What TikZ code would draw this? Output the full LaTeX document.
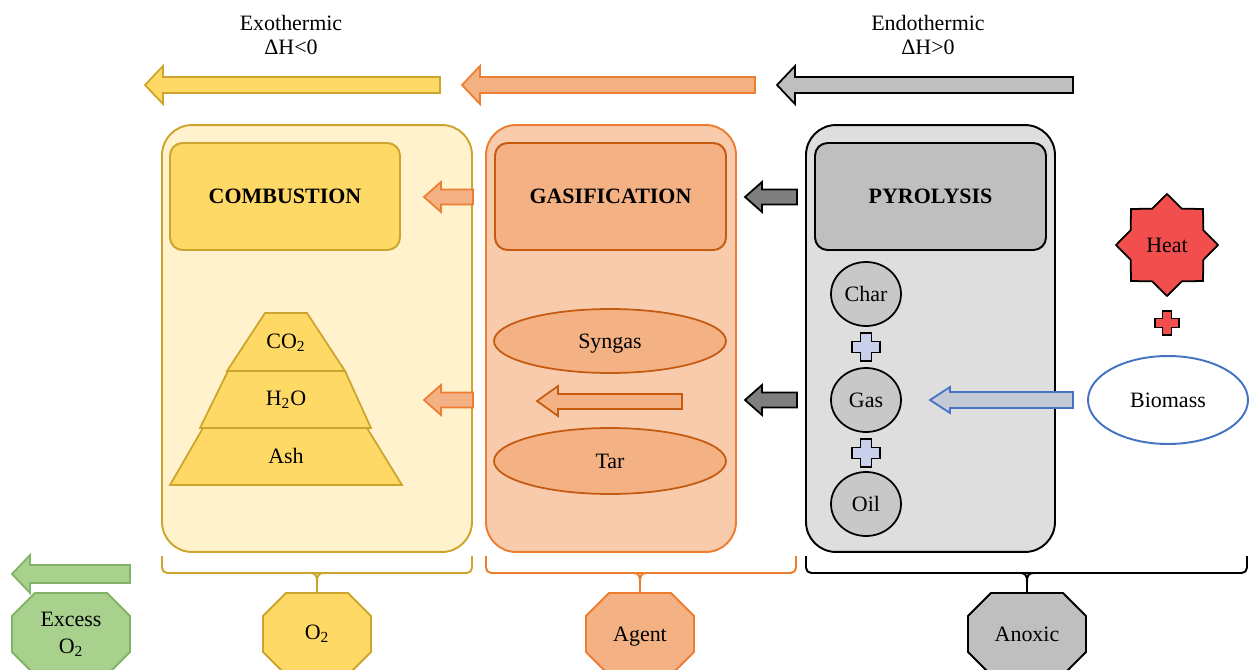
\documentclass[tikz,border=0pt]{standalone}
\usepackage{fontspec}
\setmainfont{Liberation Serif}
\usepackage{tikz}
\usetikzlibrary{shapes.geometric}

\definecolor{ylwLight}{HTML}{FFF2CC}
\definecolor{ylwMid}{HTML}{FFD966}
\definecolor{ylwLine}{HTML}{CDA52E}
\definecolor{orgLight}{HTML}{F8CBAD}
\definecolor{orgMid}{HTML}{F4B183}
\definecolor{orgLine}{HTML}{ED7D31}
\definecolor{orgDark}{HTML}{C55A11}
\definecolor{gryLight}{HTML}{DEDEDE}
\definecolor{gryMid}{HTML}{BFBFBF}
\definecolor{gryCirc}{HTML}{C8C8C8}
\definecolor{gryDark}{HTML}{7F7F7F}
\definecolor{bluLine}{HTML}{4472C4}
\definecolor{bluFill}{HTML}{C9D0EC}
\definecolor{bluArr}{HTML}{C3CAD6}
\definecolor{heatRed}{HTML}{F24E4E}
\definecolor{grnFill}{HTML}{A9D18E}
\definecolor{grnLine}{HTML}{82B366}

\begin{document}
\begin{tikzpicture}[x=0.02cm, y=-0.02cm,
  font=\fontsize{12.5}{13.6}\selectfont,
  bigbox/.style={rounded corners=0.6cm, line width=1.1pt, minimum height=8.54cm},
  hdr/.style={rounded corners=0.25cm, line width=1.1pt, minimum width=4.6cm,
    minimum height=2.14cm, font=\fontsize{12.5}{13.6}\selectfont\bfseries},
  blob/.style={ellipse, draw=orgDark, fill=orgMid, line width=1pt,
    minimum width=4.64cm, minimum height=1.28cm, text depth=0pt},
  prod/.style={ellipse, draw, fill=gryCirc, line width=1pt,
    minimum width=1.4cm, minimum height=1.28cm, inner sep=0pt},
  brc/.style={line width=1.1pt, rounded corners=3pt},
  arr/.style={line width=1pt}]
\useasboundingbox (0,0) rectangle (1249,670);
\clip (0,0) rectangle (1249,670);

% headings
\node[align=center] (exo) at (291,35) {Exothermic\\ΔH<0};
\node[align=center] (endo) at (928,35) {Endothermic\\ΔH>0};

% top arrows
\draw [arr, draw=ylwLine, fill=ylwMid] (145,85) -- (163,66) -- (163,77) -- (440,77)
                    -- (440,93) -- (163,93) -- (163,104) -- cycle;
\draw [arr, draw=orgLine, fill=orgMid] (462,85) -- (480,66) -- (480,77) -- (755,77)
                    -- (755,93) -- (480,93) -- (480,104) -- cycle;
\draw [arr, draw=black, fill=gryMid] (777,85) -- (795,66) -- (795,77) -- (1073,77)
                    -- (1073,93) -- (795,93) -- (795,104) -- cycle;

% stages
\node[bigbox, draw=ylwLine, fill=ylwLight, minimum width=6.2cm] (combbox) at (317,338.5) {};
\node[bigbox, draw=orgLine, fill=orgLight, minimum width=5cm] (gasbox) at (611,338.5) {};
\node[bigbox, draw=black, fill=gryLight, minimum width=4.98cm] (pyrobox) at (930.5,338.5) {};

\node[hdr, draw=ylwLine, fill=ylwMid] (comb) at (285,196.5) {COMBUSTION};
\node[hdr, draw=orgDark, fill=orgMid, minimum width=4.62cm] (gasif) at (610.5,196.5) {GASIFICATION};
\node[hdr, draw=black, fill=gryMid, minimum width=4.62cm] (pyro) at (930.5,196.5) {PYROLYSIS};

% small arrows between stages
\draw [arr, draw=orgLine, fill=orgMid] (424,197) -- (441,182) -- (441,189.5) -- (473,189.5)
                    -- (473,204.5) -- (441,204.5) -- (441,212) -- cycle;
\draw [arr, draw=black, fill=gryDark] (745,197) -- (762,182) -- (762,189.5) -- (797,189.5)
                    -- (797,204.5) -- (762,204.5) -- (762,212) -- cycle;
\draw [arr, draw=orgLine, fill=orgMid] (424,400) -- (441,385) -- (441,392.5) -- (473,392.5)
                    -- (473,407.5) -- (441,407.5) -- (441,415) -- cycle;
\draw [arr, draw=black, fill=gryDark] (745,400) -- (762,385) -- (762,392.5) -- (797,392.5)
                    -- (797,407.5) -- (762,407.5) -- (762,415) -- cycle;

% combustion products
\draw [arr, draw=ylwLine, fill=ylwMid] (203,428) -- (367,428) -- (402,485) -- (170,485) -- cycle;
\draw [arr, draw=ylwLine, fill=ylwMid] (228,371) -- (345,371) -- (371,428) -- (200,428) -- cycle;
\draw [arr, draw=ylwLine, fill=ylwMid] (265,313) -- (307,313) -- (345,371) -- (227,371) -- cycle;
\node (co2) at (286,343) {CO\textsubscript{2}};
\node (h2o) at (286,400) {H\textsubscript{2}O};
\node (ash) at (286,456) {Ash};

% gasification products
\node[blob] (syngas) at (610,341) {Syngas};
\node[blob, minimum height=1.32cm] (tar) at (610,461) {Tar};
\draw [arr, draw=orgDark, fill=orgMid] (537,401) -- (558,386) -- (558,394) -- (682,394)
                    -- (682,409) -- (558,409) -- (558,416) -- cycle;

% pyrolysis products
\node[prod] (char) at (866,294) {Char};
\node[prod] (gas) at (866,400) {Gas};
\node[prod] (oil) at (866,504) {Oil};
\foreach \py in {347,453}
  \draw [arr, fill=bluFill] (860.5,\py-14) -- (871.5,\py-14) -- (871.5,\py-5.5) -- (880,\py-5.5)
        -- (880,\py+5.5) -- (871.5,\py+5.5) -- (871.5,\py+14) -- (860.5,\py+14) -- (860.5,\py+5.5)
        -- (852,\py+5.5) -- (852,\py-5.5) -- (860.5,\py-5.5) -- cycle;

% feed
\node[star, star points=8, star point ratio=1.3, draw, line width=1pt, fill=heatRed,
      minimum size=2.04cm, inner sep=0pt] (heat) at (1167,245) {Heat};
\draw [arr, fill=heatRed] (1162.5,311) -- (1171.5,311) -- (1171.5,318.5) -- (1179,318.5)
      -- (1179,327.5) -- (1171.5,327.5) -- (1171.5,335) -- (1162.5,335) -- (1162.5,327.5)
      -- (1155,327.5) -- (1155,318.5) -- (1162.5,318.5) -- cycle;
\node[ellipse, draw=bluLine, line width=1.1pt, fill=white, minimum width=3.2cm,
      minimum height=1.76cm] (biomass) at (1168,400) {Biomass};
\draw [arr, draw=bluLine, fill=bluArr] (930,400) -- (950,387) -- (950,392) -- (1073,392)
                    -- (1073,408) -- (950,408) -- (950,413) -- cycle;

% atmospheres
\foreach \cx/\w/\f/\d in {71/59/grnFill/grnLine, 317/54/ylwMid/ylwLine,
                          640/54/orgMid/orgLine, 1027/59/gryMid/black}
  \draw [line width=1.1pt, fill=\f, draw=\d] (\cx-\w+23,593) -- (\cx+\w-23,593)
        -- (\cx+\w,616) -- (\cx+\w,652) -- (\cx+\w-23,675) -- (\cx-\w+23,675)
        -- (\cx-\w,652) -- (\cx-\w,616) -- cycle;
\node[align=center, font=\fontsize{12.5}{15.3}\selectfont] (excess) at (71,634) {Excess\\O\textsubscript{2}};
\node (o2) at (317,634) {O\textsubscript{2}};
\node[text depth=0pt] (agent) at (640,634) {Agent};
\node (anoxic) at (1027,634) {Anoxic};
\coordinate (o2top) at (317,593);
\coordinate (agenttop) at (640,593);
\coordinate (anoxictop) at (1027,593);
\draw [arr, draw=grnLine, fill=grnFill] (12,574) -- (30,555) -- (30,565) -- (130,565)
                    -- (130,583) -- (30,583) -- (30,593) -- cycle;

% braces
\draw [brc, ylwLine] (162,556) -- (162,573) -- (472,573) -- (472,556);
\draw [brc, orgLine] (486,556) -- (486,573) -- (796,573) -- (796,556);
\draw [brc, black] (806,556) -- (806,573) -- (1247,573) -- (1247,556);
\draw [line width=1.1pt, ylwLine] (309,573) .. controls (316,573) and (317,575) .. (317,583)
      .. controls (317,575) and (318,573) .. (325,573);
\draw [line width=1.1pt, orgLine] (632,573) .. controls (639,573) and (640,575) .. (640,583)
      .. controls (640,575) and (641,573) .. (648,573);
\draw [line width=1.1pt, black] (1019,573) .. controls (1026,573) and (1027,575) .. (1027,583)
      .. controls (1027,575) and (1028,573) .. (1035,573);
\draw [line width=1.1pt, ylwLine] (317,582) -- (o2top);
\draw [line width=1.1pt, orgLine] (640,582) -- (agenttop);
\draw [line width=1.1pt, black] (1027,582) -- (anoxictop);
\end{tikzpicture}
\end{document}
